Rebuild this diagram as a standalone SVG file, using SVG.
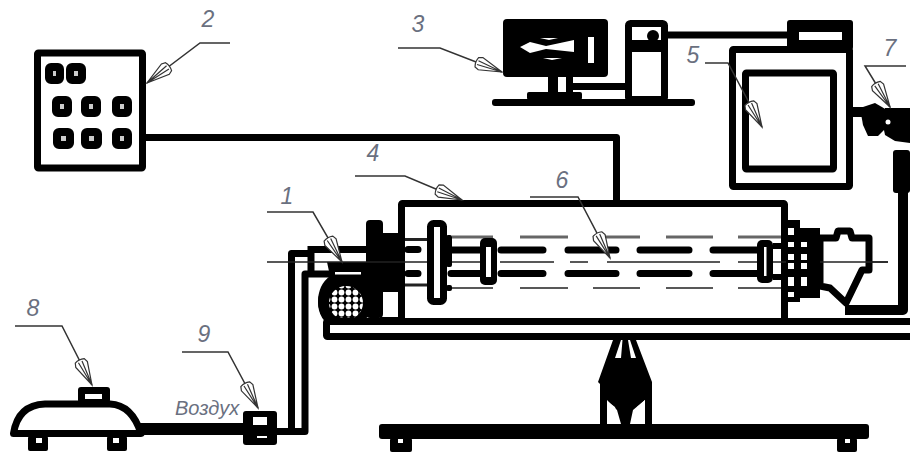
<svg xmlns="http://www.w3.org/2000/svg" width="910" height="453" viewBox="0 0 910 453">
<style>
.k{fill:#000}
.w{fill:#fff}
.b{fill:#fff;stroke:#000;stroke-width:7;stroke-linejoin:round}
.n{fill:none;stroke:#000;stroke-width:7;stroke-linejoin:round}
.r{fill:none;stroke:#000;stroke-width:7;stroke-linecap:round}
.btn{fill:#ccc;stroke:#000;stroke-width:8;stroke-linejoin:round}
.d{fill:none;stroke:#222;stroke-width:1.4}
.dt{fill:none;stroke:#666;stroke-width:3}
.ax{fill:none;stroke:#222;stroke-width:1.3}
.l{fill:none;stroke:#333;stroke-width:1.5;marker-end:url(#cone)}
text{font-family:"Liberation Sans",Arial,sans-serif;font-style:italic;fill:#6a7080}
.num{font-size:23px;text-anchor:middle}
</style>
<defs>
<marker id="cone" markerUnits="userSpaceOnUse" markerWidth="34" markerHeight="20" refX="32" refY="10" orient="auto">
<path d="M32 10 L9 3.500 L5 5 Q3 10 5 15 L9 16.500 Z M32 10 L6 8 M32 10 L6 12" fill="#fff" stroke="#333" stroke-width="1.2"/>
</marker>
<pattern id="mesh" width="7" height="7" patternUnits="userSpaceOnUse" x="2" y="2">
<rect width="7" height="7" fill="#000"/><circle cx="3.500" cy="3.500" r="2.900" fill="#fff"/>
</pattern>
</defs>

<g id="connectors">
<path class="n" d="M146 137.500H616.500V203"/>
<path class="n" d="M665 35H790"/>
<path class="n" style="stroke-width:10" d="M853 112H866"/>
<path class="n" style="stroke-width:10" d="M903 190V310H845"/>
<path class="n" style="stroke-width:12" d="M140 429H248"/>
<path class="n" d="M275 431.500H305V274H340"/>
<path class="n" d="M275 431.500H291.500V253.500H309"/>
<path class="n" d="M310 249.500H368"/>
<path class="n" d="M311 246V276"/>
</g>

<g id="node-2">
<rect class="b" x="37.500" y="53" width="105" height="115" rx="1"/>
<rect class="btn" x="49" y="67" width="11" height="13" rx="2"/>
<rect class="btn" x="70" y="67" width="12" height="13" rx="2"/>
<rect class="btn" x="56" y="100" width="12" height="13" rx="2"/>
<rect class="btn" x="85" y="100" width="12" height="13" rx="2"/>
<rect class="btn" x="116" y="100" width="12" height="13" rx="2"/>
<rect class="btn" x="57" y="132" width="13" height="13" rx="2"/>
<rect class="btn" x="85" y="132" width="13" height="13" rx="2"/>
<rect class="btn" x="116" y="132" width="12" height="13" rx="2"/>
<text class="num" x="208" y="27">2</text>
</g>

<g id="node-3">
<rect class="k" x="492" y="99" width="203" height="7" rx="3"/>
<rect class="k" x="527" y="92" width="55" height="8" rx="2"/>
<rect class="k" x="548" y="76" width="25" height="20"/>
<rect class="k" x="570" y="83" width="58" height="7"/>
<rect class="w" x="558" y="77" width="8" height="15"/>
<rect class="k" x="503" y="19" width="105" height="58" rx="4"/>
<path class="w" d="M520 47L530 42L546 46L574 40V52L546 49L530 53Z"/>
<path class="w" d="M540 38H558L549 40ZM543 58H562L552 60Z"/>
<rect class="w" x="588" y="37" width="6" height="26"/>
<rect class="b" x="628.500" y="23.500" width="36" height="76" rx="2"/>
<rect class="k" x="628" y="40" width="38" height="12"/>
<circle class="k" cx="653" cy="36" r="6"/>
<text class="num" x="418" y="32">3</text>
</g>

<g id="node-4">
<rect class="b" x="401.500" y="203.500" width="383" height="118" rx="1"/>
<rect class="k" x="366" y="220" width="17" height="98" rx="4"/>
<rect class="k" x="383" y="233" width="22" height="59"/>
<rect class="k" x="398" y="292" width="7" height="26"/>
<rect class="k" x="380" y="317" width="20" height="6"/>
<text class="num" x="373" y="161">4</text>
</g>

<g id="node-1">
<path class="k" d="M327 262H366V318H356Q345 330 334 328Q318 320 318 302Q318 285 330 276Z"/>
<rect class="w" x="335" y="272" width="26" height="2.500"/>
<circle class="k" cx="345" cy="302" r="27"/>
<circle cx="346" cy="303" r="17" fill="url(#mesh)"/>
<text class="num" x="287" y="204">1</text>
</g>

<g id="node-5">
<rect class="k" x="787" y="20" width="66" height="30" rx="3"/>
<rect class="w" x="799" y="32" width="43" height="8"/>
<rect class="b" x="732.500" y="49.500" width="117" height="137" rx="1"/>
<rect class="b" x="745.500" y="73" width="88" height="96" rx="1"/>
<text class="num" x="693" y="63">5</text>
</g>

<g id="node-6">
<path class="dt" d="M452 237H493M520 237H568M593 237H640M666 237H713M738 237H781"/>
<path class="d" d="M452 288H493M520 288H568M593 288H640M666 288H713M738 288H781"/>
<path class="ax" d="M267 262H493M500 262H554M570 262H588M607 262H720M738 262H757M772 262H888"/>
<path class="r" d="M408 249.500H418M408 273.500H418M451 250H484M451 273.500H484M501 250H543M501 273.500H543M568 250H616M568 273.500H616M640 250H689M640 273.500H689M713 250H760M713 273.500H760"/>
<path class="d" style="stroke-width:3" d="M405 239.500H428M405 285H428"/>
<rect class="b" x="430.500" y="223.500" width="13" height="78" rx="3"/>
<rect class="k" x="446" y="235" width="6" height="32" rx="2"/>
<rect class="k" x="446" y="285" width="6" height="6" rx="2"/>
<rect class="k" x="480" y="238" width="17" height="47" rx="5"/>
<rect class="w" x="486" y="247" width="5" height="30"/>
<rect class="k" x="757" y="240" width="16" height="43" rx="5"/>
<rect class="w" x="764" y="247" width="2.500" height="29"/>
<rect class="k" x="773" y="243" width="9" height="6"/>
<rect class="k" x="773" y="274" width="9" height="6"/>
<text class="num" x="562" y="188">6</text>
</g>

<g id="node-gear">
<rect class="k" x="786" y="220" width="14" height="82"/>
<rect class="k" x="800" y="228" width="20" height="70"/>
<path class="w" d="M788 228h6v7h-6zM788 242h6v5h-6zM801 242h6v5h-6zM788 254h6v6h-6zM801 254h6v6h-6zM788 263h6v6h-6zM801 263h6v6h-6zM788 277h6v9h-6zM801 277h6v9h-6zM788 292h6v5h-6z"/>
<path class="b" d="M820 238H836L838 231H850L852 238H869V270H862L846 303L830 288L820 286Z"/>
<path class="ax" d="M820 262H888"/>
</g>

<g id="node-7">
<path class="k" d="M860 108L875 103L887 110L884 130L878 136L868 136L863 125Z"/>
<path class="k" d="M885 108H910V143L895 141L885 135L883 125Z"/>
<circle class="w" cx="888" cy="122" r="2.500"/>
<rect class="k" x="893" y="150" width="17" height="43" rx="3"/>
<text class="num" x="890" y="56">7</text>
</g>

<g id="node-8">
<path class="b" d="M13.500 433.500Q18 405 45 404H110Q132 405 141 433.500Z"/>
<rect class="k" x="78" y="387" width="32" height="16" rx="3"/>
<rect class="w" x="85" y="394" width="17" height="5"/>
<rect class="k" x="28" y="436" width="20" height="15" rx="2"/>
<rect class="w" x="36" y="438" width="6" height="5"/>
<rect class="k" x="107" y="436" width="20" height="15" rx="2"/>
<rect class="w" x="113" y="438" width="6" height="5"/>
<text class="num" x="33" y="316">8</text>
</g>

<g id="node-9">
<rect class="k" x="243" y="411" width="34" height="34" rx="3"/>
<rect class="w" x="253" y="417" width="14" height="8"/>
<rect class="w" x="257" y="436" width="10" height="2"/>
<text class="num" x="204" y="342">9</text>
<text x="175" y="415" font-size="20">Воздух</text>
</g>

<g id="node-table">
<rect class="b" x="326.500" y="321.500" width="590" height="15" rx="1"/>
<path class="k" d="M598 382L613 340H636L652 382V424H645V400L633 410L630 424H621L617 410L607 400V424H600V384Z"/>
<path class="w" d="M615 358L621 340H622.500L621 358ZM628 340H630L636 358L631 358Z"/>
<path class="w" d="M607 401L615 407L620 424H607ZM645 400L637 407L632 424H645Z"/>
<rect class="k" x="379" y="424" width="490" height="15" rx="3"/>
<rect class="k" x="390" y="438" width="22" height="14" rx="2"/>
<rect class="k" x="837" y="438" width="20" height="14" rx="2"/>
<rect class="w" x="398" y="439" width="5" height="4"/>
<rect class="w" x="845" y="439" width="5" height="4"/>
</g>

<g id="leaders">
<path class="l" d="M230 43H200L147 83"/>
<path class="l" d="M398 48H440L502 72"/>
<path class="l" d="M355 176H405L462 200"/>
<path class="l" d="M267 212H313L342 262"/>
<path class="l" d="M705 63H728L762 127"/>
<path class="l" d="M530 197H578L610 258"/>
<path class="l" d="M906 66H865L890 107"/>
<path class="l" d="M15 326H62L92 385"/>
<path class="l" d="M182 352H228L258 408"/>
</g>
</svg>
